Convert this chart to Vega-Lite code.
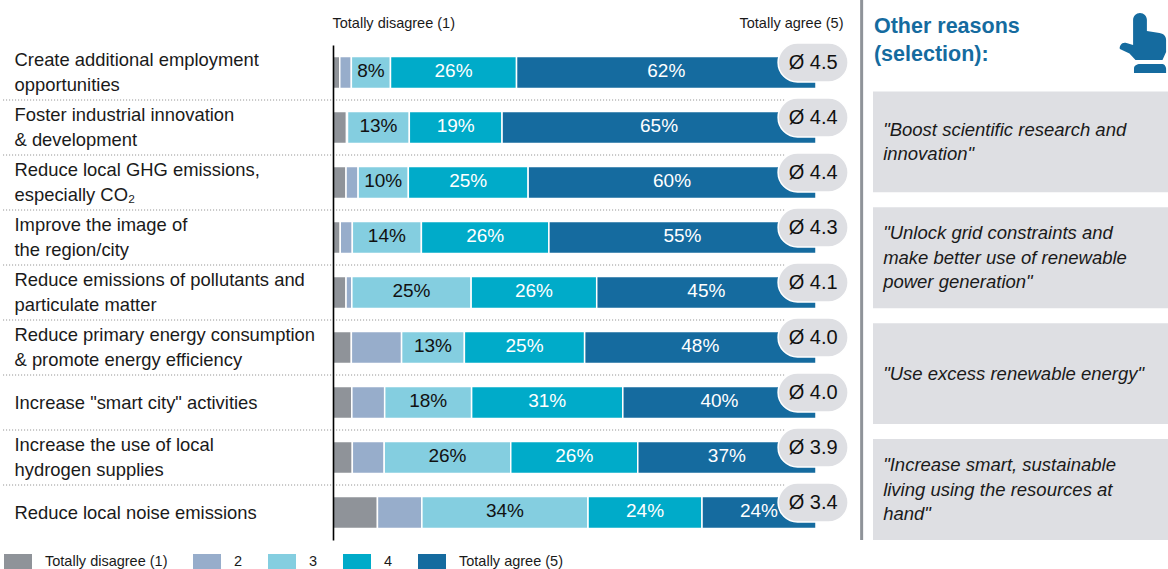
{
"$schema":"https://vega.github.io/schema/vega-lite/v6.json",
"width":1168,"height":569,"padding":0,"autosize":{"type":"none"},
"background":"white",
"config":{"view":{"stroke":null},"font":"Liberation Sans"},
"datasets":{
"ratings":[
{"item":"Create additional employment|opportunities","answer":1,"share":1.4},{"item":"Create additional employment|opportunities","answer":2,"share":2.4},{"item":"Create additional employment|opportunities","answer":3,"share":8.1},{"item":"Create additional employment|opportunities","answer":4,"share":26.1},{"item":"Create additional employment|opportunities","answer":5,"share":62},
{"item":"Foster industrial innovation|& development","answer":1,"share":2.8},{"item":"Foster industrial innovation|& development","answer":2,"share":0.2},{"item":"Foster industrial innovation|& development","answer":3,"share":12.8},{"item":"Foster industrial innovation|& development","answer":4,"share":19.2},{"item":"Foster industrial innovation|& development","answer":5,"share":65},
{"item":"Reduce local GHG emissions,|especially CO₂","answer":1,"share":2.7},{"item":"Reduce local GHG emissions,|especially CO₂","answer":2,"share":2.5},{"item":"Reduce local GHG emissions,|especially CO₂","answer":3,"share":10.4},{"item":"Reduce local GHG emissions,|especially CO₂","answer":4,"share":24.8},{"item":"Reduce local GHG emissions,|especially CO₂","answer":5,"share":59.6},
{"item":"Improve the image of|the region/city","answer":1,"share":1.5},{"item":"Improve the image of|the region/city","answer":2,"share":2.5},{"item":"Improve the image of|the region/city","answer":3,"share":14.3},{"item":"Improve the image of|the region/city","answer":4,"share":26.4},{"item":"Improve the image of|the region/city","answer":5,"share":55.3},
{"item":"Reduce emissions of pollutants and|particulate matter","answer":1,"share":2.7},{"item":"Reduce emissions of pollutants and|particulate matter","answer":2,"share":1.2},{"item":"Reduce emissions of pollutants and|particulate matter","answer":3,"share":24.7},{"item":"Reduce emissions of pollutants and|particulate matter","answer":4,"share":26},{"item":"Reduce emissions of pollutants and|particulate matter","answer":5,"share":45.4},
{"item":"Reduce primary energy consumption|& promote energy efficiency","answer":1,"share":3.8},{"item":"Reduce primary energy consumption|& promote energy efficiency","answer":2,"share":10.4},{"item":"Reduce primary energy consumption|& promote energy efficiency","answer":3,"share":13},{"item":"Reduce primary energy consumption|& promote energy efficiency","answer":4,"share":24.9},{"item":"Reduce primary energy consumption|& promote energy efficiency","answer":5,"share":47.9},
{"item":"Increase \"smart city\" activities","answer":1,"share":3.9},{"item":"Increase \"smart city\" activities","answer":2,"share":6.8},{"item":"Increase \"smart city\" activities","answer":3,"share":18},{"item":"Increase \"smart city\" activities","answer":4,"share":31.3},{"item":"Increase \"smart city\" activities","answer":5,"share":40},
{"item":"Increase the use of local|hydrogen supplies","answer":1,"share":4},{"item":"Increase the use of local|hydrogen supplies","answer":2,"share":6.6},{"item":"Increase the use of local|hydrogen supplies","answer":3,"share":26.2},{"item":"Increase the use of local|hydrogen supplies","answer":4,"share":26.3},{"item":"Increase the use of local|hydrogen supplies","answer":5,"share":36.9},
{"item":"Reduce local noise emissions","answer":1,"share":9.2},{"item":"Reduce local noise emissions","answer":2,"share":9.2},{"item":"Reduce local noise emissions","answer":3,"share":34.4},{"item":"Reduce local noise emissions","answer":4,"share":23.6},{"item":"Reduce local noise emissions","answer":5,"share":23.6}
],
"scores":[
{"item":"Create additional employment|opportunities","mean":"4.5"},
{"item":"Foster industrial innovation|& development","mean":"4.4"},
{"item":"Reduce local GHG emissions,|especially CO₂","mean":"4.4"},
{"item":"Improve the image of|the region/city","mean":"4.3"},
{"item":"Reduce emissions of pollutants and|particulate matter","mean":"4.1"},
{"item":"Reduce primary energy consumption|& promote energy efficiency","mean":"4.0"},
{"item":"Increase \"smart city\" activities","mean":"4.0"},
{"item":"Increase the use of local|hydrogen supplies","mean":"3.9"},
{"item":"Reduce local noise emissions","mean":"3.4"}
],
"panel":[
{"key":"header","text":"Other reasons|(selection):"},
{"key":"b1","text":"\"Boost scientific research and|innovation\""},
{"key":"b2","text":"\"Unlock grid constraints and|make better use of renewable|power generation\""},
{"key":"b3","text":"\"Use excess renewable energy\""},
{"key":"b4","text":"\"Increase smart, sustainable|living using the resources at|hand\""}
]
},
"resolve":{"scale":{"y":"independent"}},
"layer":[
{
"layer":[
{"data":{"name":"scores"},
 "transform":[{"filter":"datum.item !== 'Reduce local noise emissions'"}],
 "mark":{"type":"rule","color":"#8a8a8a","strokeWidth":1,"strokeDash":[1,2]},
 "encoding":{
  "y":{"field":"item","type":"nominal","bandPosition":1,"sort":null},
  "x":{"datum":-68.3,"type":"quantitative"},
  "x2":{"datum":93.6}
 }},
{"data":{"name":"ratings"},
 "transform":[{"stack":"share","groupby":["item"],"sort":[{"field":"answer","order":"ascending"}],"as":["x0","x1"]}],
 "mark":{"type":"bar","height":32,"stroke":"white","strokeWidth":1.5},
 "encoding":{
  "y":{"field":"item","type":"nominal","sort":null,"scale":{"domain":["Create additional employment|opportunities","Foster industrial innovation|& development","Reduce local GHG emissions,|especially CO₂","Improve the image of|the region/city","Reduce emissions of pollutants and|particulate matter","Reduce primary energy consumption|& promote energy efficiency","Increase \"smart city\" activities","Increase the use of local|hydrogen supplies","Reduce local noise emissions"],"range":[45,540],"paddingInner":0,"paddingOuter":0},
   "axis":{"title":null,"orient":"left","offset":-333,"labelPadding":319,"labelAlign":"left","labelBaseline":"middle","labelFontSize":18.4,"labelColor":"#1a1a1a","labelLineHeight":24.5,"labelOffset":{"condition":{"test":"indexof(datum.label,'|')>=0","value":-12.25},"value":0},"labelExpr":"split(datum.label,'|')","labelLimit":0,"ticks":false,"grid":false,"domain":true,"domainColor":"#000000","domainWidth":1.6,"zindex":1}},
  "x":{"field":"x0","type":"quantitative","scale":{"domain":[0,100],"range":[333,816],"nice":false,"zero":false},
   "axis":{"title":null,"orient":"top","values":[0,100],"offset":-23,"labelPadding":0,"labelBaseline":"middle","labelFlush":false,"labelOverlap":false,"labelFontSize":14.5,"labelColor":"#1a1a1a","labelAlign":{"condition":{"test":"datum.value<50","value":"left"},"value":"right"},"labelOffset":{"condition":{"test":"datum.value<50","value":-1},"value":27},"labelExpr":"datum.value<50?'Totally disagree (1)':'Totally agree (5)'","ticks":false,"grid":false,"domain":false}},
  "x2":{"field":"x1"},
  "color":{"field":"answer","type":"ordinal","scale":{"domain":[1,2,3,4,5],"range":["#8F9399","#97ADCB","#84CEE0","#00ABC9","#156B9F"]},
   "legend":{"title":null,"orient":"none","legendX":4,"legendY":548,"direction":"horizontal","columns":5,"columnPadding":25,"gridAlign":"none","symbolType":"M-1,-0.57H1V0.57H-1Z","symbolSize":784,"symbolStrokeWidth":0,"symbolOpacity":1,"labelOffset":13,"labelFontSize":14.5,"labelColor":"#1a1a1a","labelExpr":"datum.label=='1'?'Totally disagree (1)':datum.label=='5'?'Totally agree (5)':datum.label"}}
 }},
{"data":{"name":"ratings"},
 "transform":[{"stack":"share","groupby":["item"],"sort":[{"field":"answer","order":"ascending"}],"as":["x0","x1"]},{"calculate":"(datum.x0+datum.x1)/2","as":"mid"},{"calculate":"round(datum.share)+'%'","as":"label"},{"filter":"datum.answer>=3"}],
 "mark":{"type":"text","fontSize":19,"baseline":"middle","align":"center","yOffset":-1.5},
 "encoding":{
  "y":{"field":"item","type":"nominal","sort":null},
  "x":{"field":"mid","type":"quantitative"},
  "text":{"field":"label","type":"nominal"},
  "color":{"condition":{"test":"datum.answer==3","value":"#111111"},"value":"#ffffff"}
 }},
{"data":{"name":"scores"},
 "mark":{"type":"point","filled":true,"fill":"#DEDFE3","stroke":"white","strokeWidth":1.5,"opacity":1,"size":4900,"yOffset":-10,"shape":"M-0.443,-0.557H0.443A0.557,0.557 0 0 1 0.443,0.557H-0.443A0.557,0.557 0 0 1 -0.443,-0.557Z"},
 "encoding":{
  "y":{"field":"item","type":"nominal","sort":null},
  "x":{"datum":99.4,"type":"quantitative"}
 }},
{"data":{"name":"scores"},
 "transform":[{"calculate":"'Ø '+datum.mean","as":"badge"}],
 "mark":{"type":"text","fontSize":20,"color":"#111111","yOffset":-10,"baseline":"middle","align":"center"},
 "encoding":{
  "y":{"field":"item","type":"nominal","sort":null},
  "x":{"datum":99.4,"type":"quantitative"},
  "text":{"field":"badge","type":"nominal"}
 }}
]},
{
"layer":[
{"data":{"name":"panel"},"transform":[{"filter":"datum.key!='header'"}],
 "mark":{"type":"rect","color":"#DEDFE3"},
 "encoding":{
  "y":{"field":"key","type":"nominal","axis":null,"scale":{"domain":["header","b1","b2","b3","b4"],"range":[-24.5,540],"paddingInner":0.129,"paddingOuter":0}},
  "x":{"datum":111.8,"type":"quantitative"},
  "x2":{"datum":172.9}
 }},
{"data":{"name":"panel"},"transform":[{"filter":"datum.key!='header'"}],
 "mark":{"type":"text","fontSize":18.5,"fontStyle":"italic","color":"#1a1a1a","align":"left","baseline":"middle","lineBreak":"|","lineHeight":24.5,"dy":{"expr":"-(length(split(datum.text,'|'))-1)*12.25"}},
 "encoding":{
  "y":{"field":"key","type":"nominal","axis":null},
  "x":{"datum":113.9,"type":"quantitative"},
  "text":{"field":"text","type":"nominal"}
 }},
{"data":{"name":"panel"},"transform":[{"filter":"datum.key=='header'"}],
 "mark":{"type":"text","fontSize":21.5,"fontWeight":"bold","color":"#156B9F","align":"left","baseline":"middle","lineBreak":"|","lineHeight":28,"yOffset":1.5},
 "encoding":{
  "y":{"field":"key","type":"nominal","axis":null},
  "x":{"datum":112,"type":"quantitative"},
  "text":{"field":"text","type":"nominal"}
 }},
{"data":{"name":"panel"},"transform":[{"filter":"datum.key=='header'"}],
 "mark":{"type":"point","filled":true,"fill":"#156B9F","opacity":1,"size":3600,"yOffset":17,"strokeWidth":0,
  "shape":"M-0.33,-0.77A0.23,0.23 0 0 1 0.13,-0.77V-0.4L0.55,-0.33C0.72,-0.3 0.77,-0.2 0.77,-0.1V0.3L0.65,0.57H-0.25L-0.45,0.35L-0.77,0.2C-0.8,0.1 -0.7,-0.05 -0.55,0L-0.33,0.07Z M-0.3,1V0.85C-0.3,0.75 -0.2,0.7 -0.1,0.7H0.65C0.72,0.7 0.77,0.8 0.77,0.85V1Z"},
 "encoding":{
  "y":{"field":"key","type":"nominal","axis":null},
  "x":{"datum":167.7,"type":"quantitative"}
 }}
]},
{
"data":{"values":[{"name":"divider"}]},
"mark":{"type":"rule","color":"#8F9399","strokeWidth":3},
"encoding":{
 "x":{"datum":109.45,"type":"quantitative"},
 "y":{"datum":0,"type":"quantitative","axis":null,"scale":{"domain":[0,1],"range":[0,540]}},
 "y2":{"datum":1}
}
}
]
}
